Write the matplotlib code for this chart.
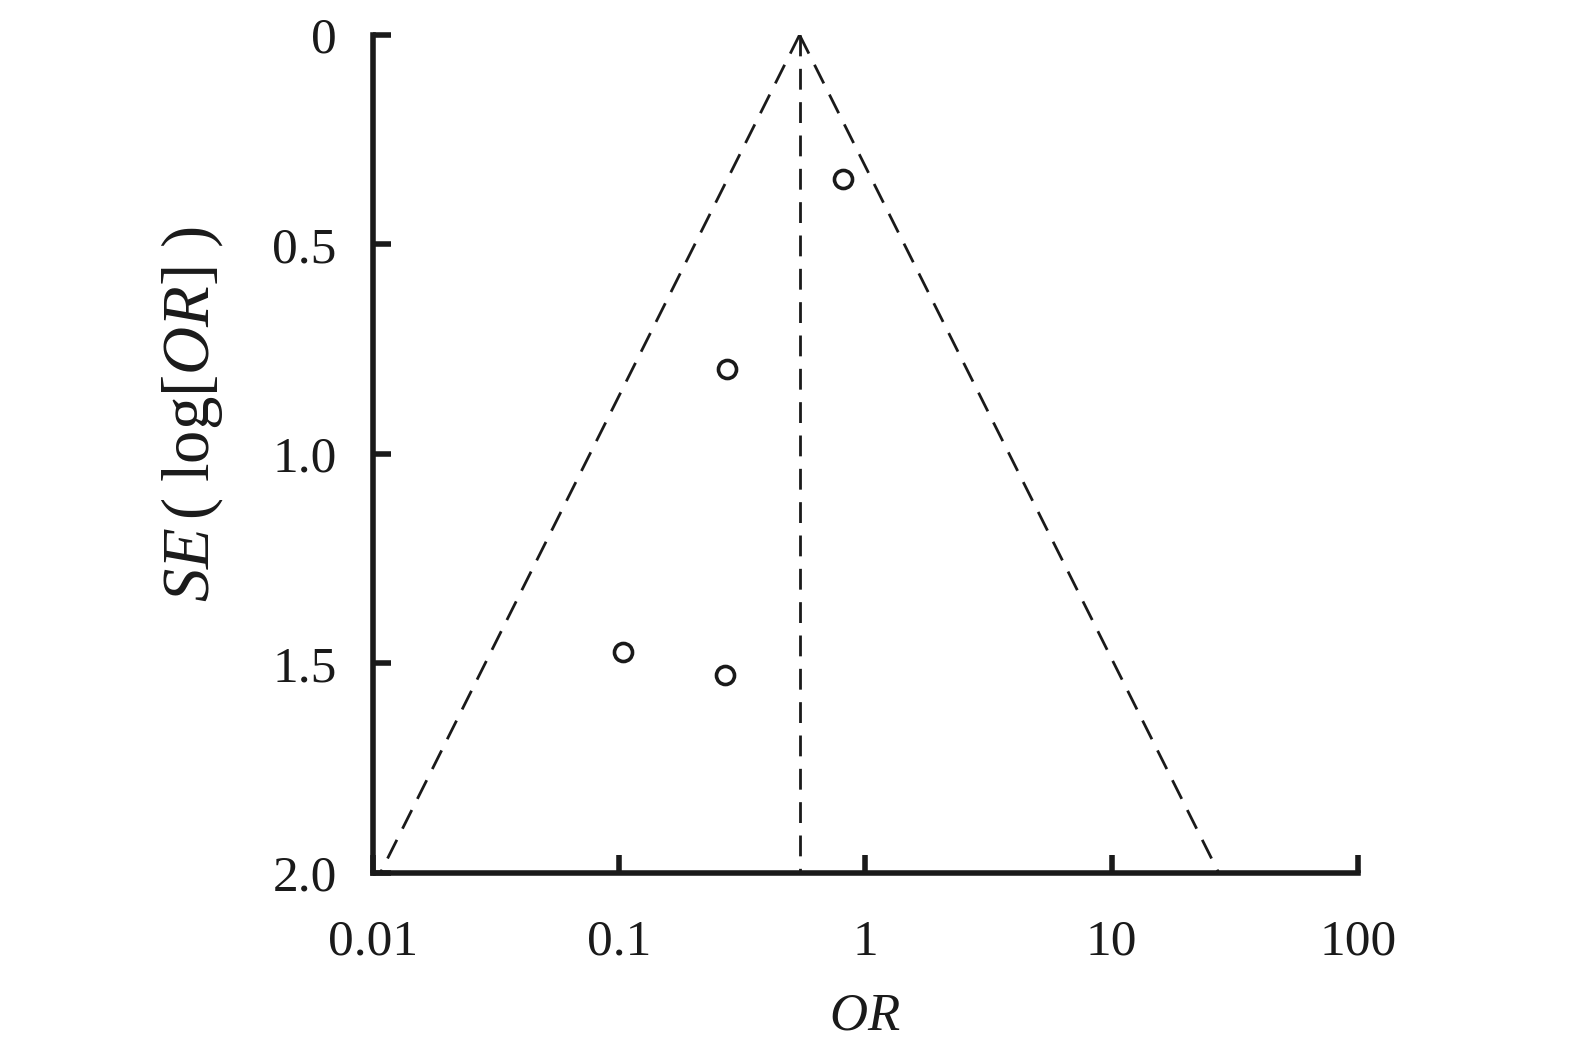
import matplotlib
matplotlib.use("Agg")
import matplotlib.pyplot as plt
import numpy as np

# study estimates
or_values = [0.81, 0.275, 0.104, 0.27]
se_values = [0.344, 0.797, 1.473, 1.527]
pooled_or = 0.54
x_ticks = [0.01, 0.1, 1, 10, 100]
x_labels = ["0.01", "0.1", "1", "10", "100"]
y_ticks = [0, 0.5, 1.0, 1.5, 2.0]
y_labels = ["0", "0.5", "1.0", "1.5", "2.0"]

plt.rcParams['font.family'] = ['Liberation Serif', 'DejaVu Serif']
plt.rcParams['mathtext.fontset'] = 'custom'
plt.rcParams['mathtext.rm'] = 'Liberation Serif'
plt.rcParams['mathtext.it'] = 'Liberation Serif:italic'

fig = plt.figure(figsize=(15.75, 10.53), dpi=100)
ax = fig.add_axes([0.2368, 0.171, 0.6254, 0.7958])

# funnel: pooled estimate +/- 1.96 SE on log scale
se_line = np.array([0.0, 2.0])
lo = pooled_or * np.exp(-1.96 * se_line)
hi = pooled_or * np.exp(1.96 * se_line)
dash = (0, (7.5, 4.5))
ax.plot(lo, se_line, color="#1a1a1a", lw=2.0, ls=dash)
ax.plot(hi, se_line, color="#1a1a1a", lw=2.0, ls=dash)
ax.plot([pooled_or, pooled_or], se_line, color="#1a1a1a", lw=2.0, ls=dash)

ax.plot(or_values, se_values, ls="none", marker="o", ms=13,
        mfc="white", mec="#1a1a1a", mew=2.6)

ax.set_xscale("log")
ax.set_xlim(0.01, 100)
ax.set_ylim(2.0, 0)
ax.set_xticks(x_ticks)
ax.set_xticklabels(x_labels)
ax.minorticks_off()
ax.set_yticks(y_ticks)
ax.set_yticklabels(y_labels)

for s in ["top", "right"]:
    ax.spines[s].set_visible(False)
for s in ["left", "bottom"]:
    ax.spines[s].set_linewidth(4.0)
    ax.spines[s].set_color("#1a1a1a")
    ax.spines[s].set_capstyle("projecting")

ax.tick_params(direction="in", length=13, width=4.0, color="#1a1a1a",
               labelsize=37, labelcolor="#1a1a1a")
ax.tick_params(axis="x", pad=33.5)
ax.tick_params(axis="y", pad=26)

ax.set_xlabel(r"$OR$", fontsize=38, color="#1a1a1a")
ax.xaxis.set_label_coords(0.4995, -0.143)
ax.set_ylabel(r"$SE\,(\ \mathrm{log}[OR]\ )$", fontsize=48, color="#1a1a1a")
ax.yaxis.set_label_coords(-0.150, 0.547)

fig.savefig("out.png", dpi=100, facecolor="white")
